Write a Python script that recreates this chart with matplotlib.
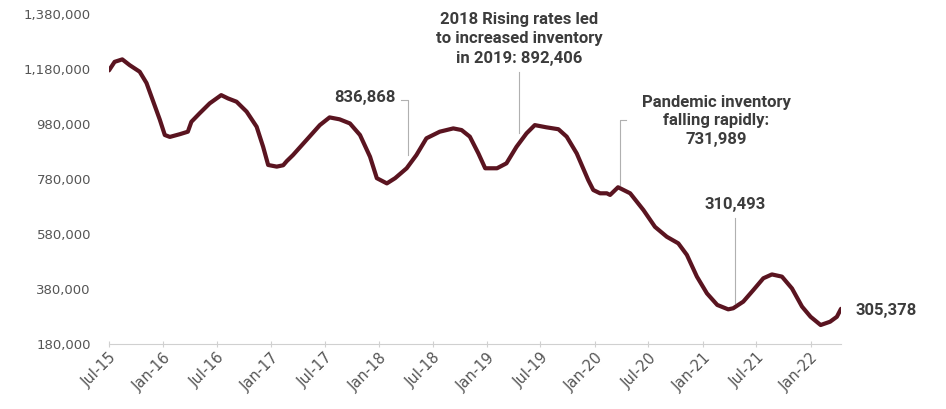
import matplotlib
matplotlib.use("Agg")
import matplotlib.pyplot as plt
import matplotlib.dates as mdates
import numpy as np
import pandas as pd

plt.rcParams["font.family"] = ["Roboto", "DejaVu Sans"]

# Inventory series.
dates = [
    "2015-07-01", "2015-07-20", "2015-08-15", "2015-09-09", "2015-10-13",
    "2015-11-05", "2015-11-26", "2015-12-20", "2016-01-06", "2016-01-23",
    "2016-02-26", "2016-03-24", "2016-04-05", "2016-05-03", "2016-06-06",
    "2016-07-15", "2016-08-07", "2016-09-05", "2016-10-09", "2016-11-12",
    "2016-12-04", "2016-12-21", "2017-01-19", "2017-02-10", "2017-02-22",
    "2017-03-15", "2017-04-30", "2017-06-14", "2017-07-17", "2017-08-20",
    "2017-09-24", "2017-10-28", "2017-12-01", "2017-12-24", "2018-01-27",
    "2018-02-24", "2018-04-04", "2018-05-07", "2018-06-10", "2018-07-25",
    "2018-09-09", "2018-10-07", "2018-11-04", "2018-12-03", "2018-12-26",
    "2019-02-04", "2019-03-08", "2019-04-11", "2019-05-15", "2019-06-12",
    "2019-07-21", "2019-08-31", "2019-09-28", "2019-11-01", "2019-12-10",
    "2019-12-27", "2020-01-19", "2020-02-11", "2020-02-22", "2020-03-20",
    "2020-04-30", "2020-06-14", "2020-07-23", "2020-09-01", "2020-10-10",
    "2020-11-08", "2020-12-12", "2021-01-15", "2021-02-19", "2021-03-28",
    "2021-04-14", "2021-05-18", "2021-06-21", "2021-07-25", "2021-08-23",
    "2021-09-26", "2021-10-30", "2021-12-03", "2022-01-01", "2022-02-04",
    "2022-03-08", "2022-03-31", "2022-04-14",
]
inventory = [
    1175000, 1206000, 1215000, 1194000, 1170000,
    1129000, 1067000, 996000, 940000, 933000,
    943000, 952000, 988000, 1019000, 1055000,
    1085000, 1073000, 1061000, 1025000, 970000,
    897000, 831000, 825000, 830000, 845000,
    867000, 922000, 976000, 1004000, 997000,
    982000, 940000, 861000, 783000, 764000,
    783000, 819000, 867000, 928000, 952000,
    964000, 958000, 934000, 873000, 819000,
    819000, 837000, 897000, 946000, 976000,
    968000, 961000, 934000, 873000, 776000,
    740000, 728000, 728000, 722000, 750000,
    728000, 667000, 606000, 570000, 546000,
    504000, 425000, 364000, 322000, 306000,
    310000, 334000, 376000, 419000, 433000,
    425000, 382000, 316000, 279000, 249000,
    261000, 279000, 308000,
]

y_ticks = [180000, 380000, 580000, 780000, 980000, 1180000, 1380000]

# Annotations: text, anchor date, value.
annotations = [
    ("836,868", "2018-04-08", 836868),
    ("2018 Rising rates led\nto increased inventory\nin 2019: 892,406",
     "2019-04-20", 892406),
    ("Pandemic inventory\nfalling rapidly:\n731,989", "2020-03-28", 731989),
    ("310,493", "2021-04-20", 310493),
]

line_color = "#5a1420"
text_color = "#3c3c3c"

dates = pd.to_datetime(dates)

fig = plt.figure(figsize=(9.46, 4.09), dpi=100)
ax = fig.add_axes([109 / 946, 1 - 344 / 409, (841 - 109) / 946, 330 / 409])

ax.plot(dates, inventory, color=line_color, linewidth=3,
        solid_joinstyle="round", solid_capstyle="round")

ax.set_ylim(180000, 1380000)
ax.set_xlim(pd.Timestamp("2015-07-01"), dates[-1])
ax.set_yticks(y_ticks)
ax.set_yticklabels(["{:,}".format(v) for v in y_ticks])
ax.tick_params(axis="y", length=0, pad=13, labelsize=9.5, labelcolor="#555555")

ax.xaxis.set_major_locator(mdates.MonthLocator(bymonth=[1, 7]))
ax.xaxis.set_major_formatter(mdates.DateFormatter("%b-%y"))
ax.tick_params(axis="x", direction="inout", length=5, color="#d0d0d0",
               labelsize=10.5, labelcolor="#555555", pad=2)
for lab in ax.get_xticklabels() + ax.get_yticklabels():
    lab.set_family("DejaVu Sans")
for lab in ax.get_xticklabels():
    lab.set_rotation(45)
    lab.set_ha("right")
    lab.set_rotation_mode("anchor")

for side in ["left", "right", "top"]:
    ax.spines[side].set_visible(False)
ax.spines["bottom"].set_color("#d0d0d0")

def yv(px):
    # pixel row in the figure to a data value
    return 180000 + (344 - px) * 200000 / 55

fs = 12

# 836,868 leader and label
d = pd.Timestamp(annotations[0][1])
ax.plot([d - pd.Timedelta(days=22), d, d], [yv(100), yv(100), yv(155)],
        color="#b0b0b0", linewidth=0.8)
ax.text(d - pd.Timedelta(days=42), yv(98), annotations[0][0], ha="right",
        va="center", fontsize=fs, color=text_color, fontweight="bold")

# 2019 note
d = pd.Timestamp(annotations[1][1])
ax.plot([d, d], [yv(72), yv(133)], color="#b0b0b0", linewidth=0.8)
ax.text(d, yv(39), annotations[1][0], ha="center", va="center",
        fontsize=fs, color=text_color, fontweight="bold",
        linespacing=1.35, clip_on=False)

# Pandemic note
d = pd.Timestamp(annotations[2][1])
ax.plot([d + pd.Timedelta(days=18), d, d], [yv(120), yv(120), yv(185)],
        color="#b0b0b0", linewidth=0.8)
ax.text(pd.Timestamp("2021-02-15"), yv(121), annotations[2][0], ha="center",
        va="center", fontsize=fs, color=text_color, fontweight="bold",
        linespacing=1.3)

# 310,493
d = pd.Timestamp(annotations[3][1])
ax.plot([d, d], [yv(218), yv(303)], color="#b0b0b0", linewidth=0.8)
ax.text(d, yv(205), annotations[3][0], ha="center", va="center",
        fontsize=fs, color=text_color, fontweight="bold")

# last value
ax.text(dates[-1] + pd.Timedelta(days=50), yv(310), "305,378", ha="left",
        va="center", fontsize=fs, color=text_color, fontweight="bold",
        clip_on=False)

fig.savefig("out.png", dpi=100)
